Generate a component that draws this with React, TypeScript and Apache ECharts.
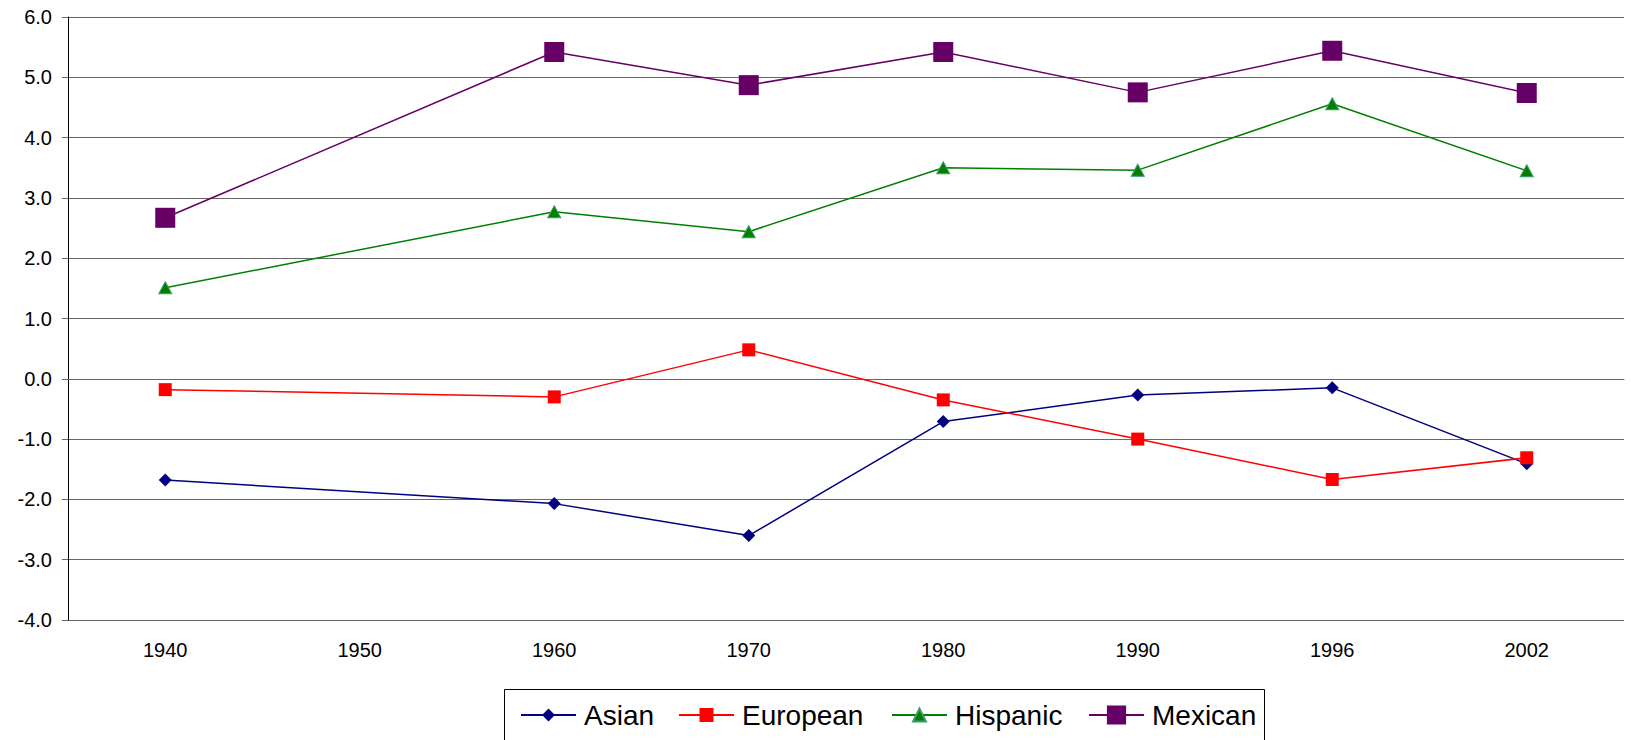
import React, { useEffect, useRef } from "react";
import * as echarts from "echarts";

const years = ["1940", "1950", "1960", "1970", "1980", "1990", "1996", "2002"];
const asian = [-1.68, null, -2.07, -2.6, -0.71, -0.27, -0.15, -1.41];
const european = [-0.18, null, -0.3, 0.48, -0.35, -1.0, -1.67, -1.31];
const hispanic = [1.51, null, 2.77, 2.44, 3.5, 3.46, 4.56, 3.45];
const mexican = [2.67, null, 5.42, 4.87, 5.42, 4.75, 5.44, 4.74];
const yTicks = { min: -4, max: 6, interval: 1 };

const FONT = "'Liberation Sans', Arial, sans-serif";

export default function App() {
  const ref = useRef<HTMLDivElement>(null);
  useEffect(() => {
    if (!ref.current) return;
    const chart = echarts.init(ref.current, null, { renderer: "svg" });
    const legendBase = (name: string, left: number, itemHeight: number) => ({
      data: [name],
      left,
      top: 700,
      orient: "horizontal",
      padding: 0,
      itemWidth: 55,
      itemHeight,
      selectedMode: false,
      textStyle: {
        fontFamily: FONT,
        fontSize: 28,
        lineHeight: 30,
        color: "#000",
        padding: [0, 0, 0, 3],
      },
    });
    chart.setOption({
      animation: false,
      backgroundColor: "#fff",
      textStyle: { fontFamily: FONT },
      grid: { left: 68, right: 7, top: 17, bottom: 120, containLabel: false },
      xAxis: {
        type: "category",
        data: years,
        boundaryGap: true,
        axisLine: { show: true, lineStyle: { color: "#666", width: 1 } },
        axisTick: { show: false },
        axisLabel: { fontFamily: FONT, fontSize: 20, color: "#000", margin: 20 },
        splitLine: { show: false },
      },
      yAxis: {
        type: "value",
        min: yTicks.min,
        max: yTicks.max,
        interval: yTicks.interval,
        axisLine: { show: true, lineStyle: { color: "#000", width: 1 } },
        axisTick: { show: true, length: 6, lineStyle: { color: "#666" } },
        axisLabel: {
          fontFamily: FONT,
          fontSize: 20,
          color: "#000",
          margin: 16,
          formatter: (v: number) => v.toFixed(1),
        },
        splitLine: { show: true, lineStyle: { color: "#666", width: 1 } },
      },
      legend: [
        legendBase("Asian", 520, 16),
        legendBase("European", 678, 17.5),
        legendBase("Hispanic", 891, 16),
        legendBase("Mexican", 1088, 24),
      ],
      graphic: [
        {
          type: "rect",
          shape: { x: 504.5, y: 689.5, width: 760, height: 80 },
          style: { fill: "none", stroke: "#000", lineWidth: 1 },
          silent: true,
        },
      ],
      series: [
        {
          name: "Asian",
          type: "line",
          data: asian,
          connectNulls: true,
          symbol: "diamond",
          symbolSize: 13,
          itemStyle: { color: "#000080" },
          lineStyle: { color: "#000080", width: 1.5 },
        },
        {
          name: "European",
          type: "line",
          data: european,
          connectNulls: true,
          symbol: "rect",
          symbolSize: 13,
          itemStyle: { color: "#ff0000" },
          lineStyle: { color: "#ff0000", width: 1.5 },
        },
        {
          name: "Hispanic",
          type: "line",
          data: hispanic,
          connectNulls: true,
          symbol: "triangle",
          symbolSize: [13, 12],
          itemStyle: { color: "#008000", borderColor: "#3a9a6a", borderWidth: 1 },
          lineStyle: { color: "#008000", width: 1.5 },
        },
        {
          name: "Mexican",
          type: "line",
          data: mexican,
          connectNulls: true,
          symbol: "rect",
          symbolSize: 20,
          itemStyle: { color: "#660066" },
          lineStyle: { color: "#660066", width: 1.5 },
        },
      ],
    });
    return () => chart.dispose();
  }, []);
  return (
    <div
      ref={ref}
      style={{ position: "fixed", left: 0, top: 0, width: 1631, height: 740 }}
    />
  );
}
